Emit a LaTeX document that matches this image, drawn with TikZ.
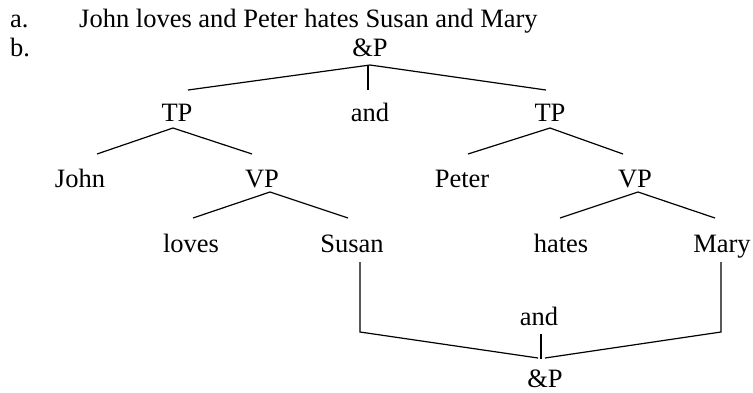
\documentclass[tikz,border=0pt]{standalone}
\usepackage{fontspec}
\setmainfont{Liberation Serif}
\begin{document}
\begin{tikzpicture}[x=1pt,y=-1pt,
  lbl/.style={inner sep=0pt,anchor=base,font=\fontsize{26.5}{30}\selectfont},
  lblw/.style={lbl,anchor=base west},
  edge/.style={line width=1.2pt,black}]
\useasboundingbox (0,0) rectangle (753,392);
% header lines
\node[lblw] (la) at (10,27) {a.};
\node[lblw] (sent) at (79,27) {John loves and Peter hates Susan and Mary};
\node[lblw] (lb) at (10,56) {b.};
% tree nodes
\node[lbl] (amp1) at (370,56) {\&P};
\node[lbl] (tp1) at (177,121) {TP};
\node[lbl] (and1) at (370,121) {and};
\node[lbl] (tp2) at (550,121) {TP};
\node[lbl] (john) at (80,187) {John};
\node[lbl] (vp1) at (262,187) {VP};
\node[lbl] (peter) at (462,187) {Peter};
\node[lbl] (vp2) at (635,187) {VP};
\node[lbl] (loves) at (191,252) {loves};
\node[lbl] (susan) at (352,252) {Susan};
\node[lbl] (hates) at (561,252) {hates};
\node[lbl] (mary) at (722,252) {Mary};
\node[lbl] (and2) at (539,325) {and};
\node[lbl] (amp2) at (545,387) {\&P};
% top connectors
\draw[edge] ([shift={(0,9)}]amp1.base) -- ([shift={(11,-31)}]tp1.base);
\draw[edge] ([shift={(-2,9)}]amp1.base) -- ([shift={(-2,-31)}]and1.base);
\draw[edge] ([shift={(0,9)}]amp1.base) -- ([shift={(-4,-31)}]tp2.base);
\draw[edge] ([shift={(-4,7)}]tp1.base) -- ([shift={(17,-33)}]john.base);
\draw[edge] ([shift={(-4,7)}]tp1.base) -- ([shift={(-10,-33)}]vp1.base);
\draw[edge] ([shift={(8,5)}]vp1.base) -- ([shift={(2,-34)}]loves.base);
\draw[edge] ([shift={(8,5)}]vp1.base) -- ([shift={(-4,-34)}]susan.base);
\draw[edge] ([shift={(0,7)}]tp2.base) -- ([shift={(6,-33)}]peter.base);
\draw[edge] ([shift={(0,7)}]tp2.base) -- ([shift={(-12,-33)}]vp2.base);
\draw[edge] ([shift={(3,5)}]vp2.base) -- ([shift={(-1,-34)}]hates.base);
\draw[edge] ([shift={(3,5)}]vp2.base) -- ([shift={(-7,-34)}]mary.base);
% bottom connectors
\draw[edge] ([shift={(8,10)}]susan.base) -- ++(0,70) -- ([shift={(-7,-29)}]amp2.base);
\draw[edge] ([shift={(-1,10)}]mary.base) -- ++(0,70) -- ([shift={(0,-29)}]amp2.base);
\draw[edge] ([shift={(2,9)}]and2.base) -- ([shift={(-4,-28)}]amp2.base);
\end{tikzpicture}
\end{document}
